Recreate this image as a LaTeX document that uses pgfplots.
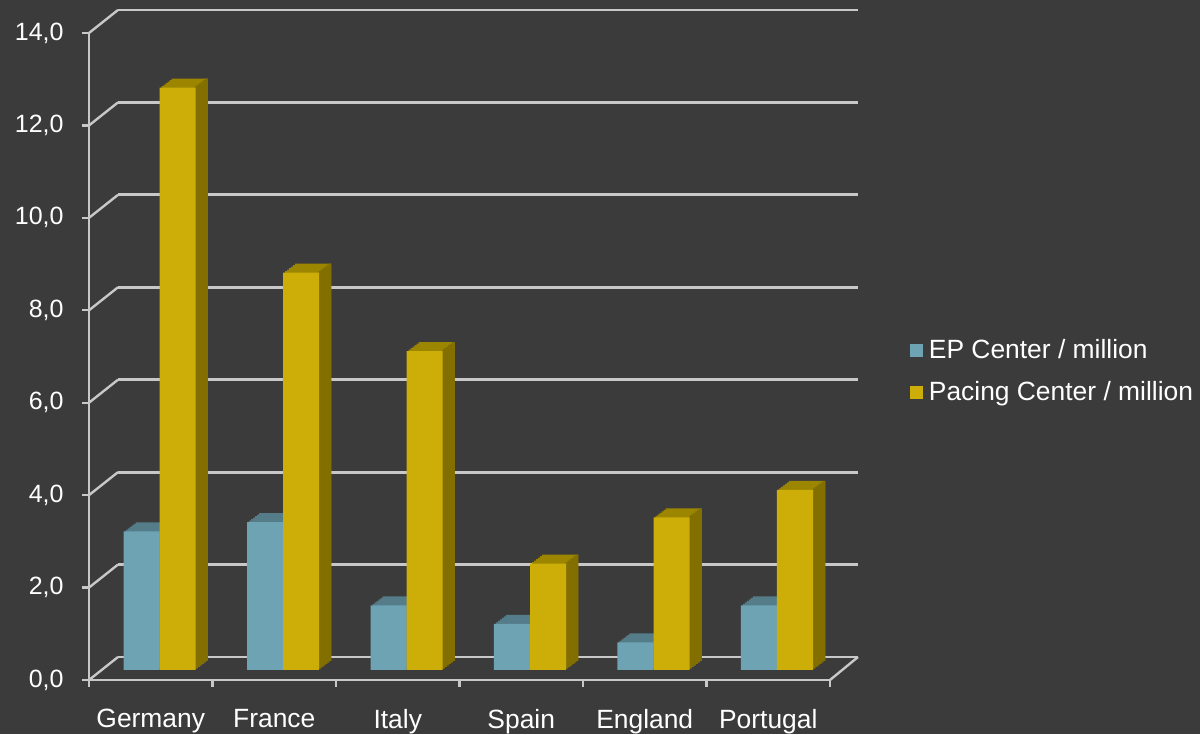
\documentclass[border=0pt]{standalone}
\usepackage{pgfplots}
\usepackage{pgfplotstable}
\pgfplotsset{compat=1.18}
\usepackage{fontspec}
\setmainfont{Liberation Sans}
\definecolor{bg}{RGB}{59,59,59}
\definecolor{gridc}{RGB}{200,200,200}
\definecolor{epf}{RGB}{110,163,180}
\definecolor{ept}{RGB}{84,124,137}
\definecolor{paf}{RGB}{205,174,8}
\definecolor{pat}{RGB}{156,134,0}
\definecolor{pas}{RGB}{130,111,0}

\pgfplotstableread{
x ep pa
0 3.0 12.6
1 3.2 8.6
2 1.4 6.9
3 1.0 2.3
4 0.6 3.3
5 1.4 3.9
}\data

\begin{document}
\begin{tikzpicture}
\fill[bg] (0,0) rectangle (600pt,367pt);
\useasboundingbox (0,0) rectangle (600pt,367pt);

% back wall grid
\begin{axis}[at={(59pt,38.5pt)}, anchor=south west, scale only axis,
  width=370pt, height=323.5pt, xmin=-0.5, xmax=5.5, ymin=0, ymax=14,
  ytick={0,2,...,14}, yticklabels={}, xtick=\empty, ymajorgrids,
  major grid style={gridc, line width=1.4pt},
  axis line style={draw=none}, tick style={draw=none}]
\end{axis}

% depth lines
\begin{scope}[x=0.5pt, y=-0.5pt, shift={(0,367pt)}]
\foreach \k in {0,...,7} {
  \draw[gridc, line width=1.2pt] (89,{680-92.43*\k}) -- (118,{657-92.43*\k});
}
\draw[gridc, line width=1.2pt] (830,680) -- (858,657);
\end{scope}

% bars
\begin{axis}[at={(48.875pt,32pt)}, anchor=south west, scale only axis,
  width=370.5pt, height=323.5pt, xmin=-0.5, xmax=5.5, ymin=0, ymax=14,
  hide axis, clip=false, legend cell align=left,
  legend style={at={(1.0955,0.462)}, anchor=west, draw=none, fill=none,
    text=white, font=\fontsize{13.2}{15.5}\selectfont, row sep=8pt, inner sep=0pt,
    nodes={inner xsep=3pt, inner ysep=1pt}},
  legend image code/.code={\fill[#1] (0pt,-3.25pt) rectangle (6.5pt,3.25pt);}]
\pgfplotsinvokeforeach{1,...,6}{
  \addplot[ybar, bar width=18pt, bar shift={#1*1pt-9pt}, yshift={#1*0.75pt},
    fill=ept, draw=none, forget plot] table[x=x,y=ep]{\data};
}
\addplot[ybar, bar width=18pt, bar shift=-9pt, fill=epf, draw=none, forget plot]
  table[x=x,y=ep]{\data};
\pgfplotsinvokeforeach{1,...,6}{
  \addplot[ybar, bar width=18pt, bar shift={#1*1pt+9pt}, yshift={#1*0.75pt},
    fill=pat, draw=none, forget plot] table[x=x,y=pa]{\data};
}
\pgfplotsinvokeforeach{1,...,6}{
  \addplot[ybar, bar width=1.3pt, bar shift={#1*1pt+17.5pt}, yshift={#1*0.75pt},
    fill=pas, draw=none, forget plot] table[x=x,y=pa]{\data};
}
\addplot[ybar, bar width=18pt, bar shift=9pt, fill=paf, draw=none, forget plot]
  table[x=x,y=pa]{\data};
\addlegendimage{fill=epf, draw=none}
\addlegendentry{EP Center / million}
\addlegendimage{fill=paf, draw=none}
\addlegendentry{Pacing Center / million}
\end{axis}

% front axes
\begin{axis}[at={(44.5pt,27pt)}, anchor=south west, scale only axis,
  width=370.5pt, height=323.5pt, xmin=-0.5, xmax=5.5, ymin=0, ymax=14,
  axis x line*=bottom, axis y line*=left,
  axis line style={gridc, line width=1.3pt},
  tick style={gridc, line width=1.2pt}, tick align=outside,
  major tick length=3.5pt,
  ytick={0,2,...,14},
  xtick={-0.5,0.5,...,5.5}, xticklabels={,,,,,,},
  extra x ticks={0,1,2,3,4,5},
  extra x tick labels={Germany,France,Italy,Spain,England,Portugal},
  extra x tick style={major tick length=0pt},
  xticklabel style={font=\fontsize{13.2}{15.5}\selectfont, text=white, anchor=north, inner sep=0pt, yshift=-14.5pt},
  yticklabel style={font=\fontsize{12.5}{15}\selectfont, text=white, anchor=east, inner sep=0pt, xshift=-9pt,
    /pgf/number format/.cd, fixed, fixed zerofill, precision=1, use comma, assume math mode=true}]
\end{axis}
\end{tikzpicture}
\end{document}
